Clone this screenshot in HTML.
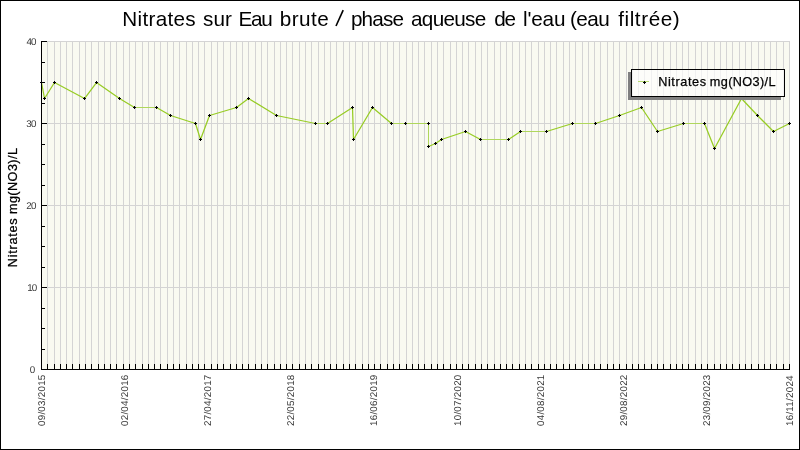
<!DOCTYPE html>
<html><head><meta charset="utf-8"><title>Nitrates</title>
<style>html,body{margin:0;padding:0;background:#fff;}body{width:800px;height:450px;overflow:hidden;}svg{display:block;}text{font-family:"Liberation Sans",sans-serif;}svg{opacity:0.999;will-change:transform;}</style>
</head><body>
<svg width="800" height="450" viewBox="0 0 800 450">
<rect x="0" y="0" width="800" height="450" fill="#ffffff"/>
<g shape-rendering="crispEdges">
<rect x="41" y="41" width="749" height="329" fill="#f9faf1"/>
<rect x="47" y="41" width="1" height="328" fill="#d4d4d4"/>
<rect x="54" y="41" width="1" height="328" fill="#d4d4d4"/>
<rect x="60" y="41" width="1" height="328" fill="#d4d4d4"/>
<rect x="66" y="41" width="1" height="328" fill="#d4d4d4"/>
<rect x="72" y="41" width="1" height="328" fill="#d4d4d4"/>
<rect x="79" y="41" width="1" height="328" fill="#d4d4d4"/>
<rect x="85" y="41" width="1" height="328" fill="#d4d4d4"/>
<rect x="91" y="41" width="1" height="328" fill="#d4d4d4"/>
<rect x="98" y="41" width="1" height="328" fill="#d4d4d4"/>
<rect x="104" y="41" width="1" height="328" fill="#d4d4d4"/>
<rect x="110" y="41" width="1" height="328" fill="#d4d4d4"/>
<rect x="116" y="41" width="1" height="328" fill="#d4d4d4"/>
<rect x="123" y="41" width="1" height="328" fill="#d4d4d4"/>
<rect x="129" y="41" width="1" height="328" fill="#d4d4d4"/>
<rect x="135" y="41" width="1" height="328" fill="#d4d4d4"/>
<rect x="142" y="41" width="1" height="328" fill="#d4d4d4"/>
<rect x="148" y="41" width="1" height="328" fill="#d4d4d4"/>
<rect x="154" y="41" width="1" height="328" fill="#d4d4d4"/>
<rect x="160" y="41" width="1" height="328" fill="#d4d4d4"/>
<rect x="167" y="41" width="1" height="328" fill="#d4d4d4"/>
<rect x="173" y="41" width="1" height="328" fill="#d4d4d4"/>
<rect x="179" y="41" width="1" height="328" fill="#d4d4d4"/>
<rect x="186" y="41" width="1" height="328" fill="#d4d4d4"/>
<rect x="192" y="41" width="1" height="328" fill="#d4d4d4"/>
<rect x="198" y="41" width="1" height="328" fill="#d4d4d4"/>
<rect x="204" y="41" width="1" height="328" fill="#d4d4d4"/>
<rect x="211" y="41" width="1" height="328" fill="#d4d4d4"/>
<rect x="217" y="41" width="1" height="328" fill="#d4d4d4"/>
<rect x="223" y="41" width="1" height="328" fill="#d4d4d4"/>
<rect x="230" y="41" width="1" height="328" fill="#d4d4d4"/>
<rect x="236" y="41" width="1" height="328" fill="#d4d4d4"/>
<rect x="242" y="41" width="1" height="328" fill="#d4d4d4"/>
<rect x="248" y="41" width="1" height="328" fill="#d4d4d4"/>
<rect x="255" y="41" width="1" height="328" fill="#d4d4d4"/>
<rect x="261" y="41" width="1" height="328" fill="#d4d4d4"/>
<rect x="267" y="41" width="1" height="328" fill="#d4d4d4"/>
<rect x="274" y="41" width="1" height="328" fill="#d4d4d4"/>
<rect x="280" y="41" width="1" height="328" fill="#d4d4d4"/>
<rect x="286" y="41" width="1" height="328" fill="#d4d4d4"/>
<rect x="292" y="41" width="1" height="328" fill="#d4d4d4"/>
<rect x="299" y="41" width="1" height="328" fill="#d4d4d4"/>
<rect x="305" y="41" width="1" height="328" fill="#d4d4d4"/>
<rect x="311" y="41" width="1" height="328" fill="#d4d4d4"/>
<rect x="318" y="41" width="1" height="328" fill="#d4d4d4"/>
<rect x="324" y="41" width="1" height="328" fill="#d4d4d4"/>
<rect x="330" y="41" width="1" height="328" fill="#d4d4d4"/>
<rect x="336" y="41" width="1" height="328" fill="#d4d4d4"/>
<rect x="343" y="41" width="1" height="328" fill="#d4d4d4"/>
<rect x="349" y="41" width="1" height="328" fill="#d4d4d4"/>
<rect x="355" y="41" width="1" height="328" fill="#d4d4d4"/>
<rect x="362" y="41" width="1" height="328" fill="#d4d4d4"/>
<rect x="368" y="41" width="1" height="328" fill="#d4d4d4"/>
<rect x="374" y="41" width="1" height="328" fill="#d4d4d4"/>
<rect x="380" y="41" width="1" height="328" fill="#d4d4d4"/>
<rect x="387" y="41" width="1" height="328" fill="#d4d4d4"/>
<rect x="393" y="41" width="1" height="328" fill="#d4d4d4"/>
<rect x="399" y="41" width="1" height="328" fill="#d4d4d4"/>
<rect x="406" y="41" width="1" height="328" fill="#d4d4d4"/>
<rect x="412" y="41" width="1" height="328" fill="#d4d4d4"/>
<rect x="418" y="41" width="1" height="328" fill="#d4d4d4"/>
<rect x="424" y="41" width="1" height="328" fill="#d4d4d4"/>
<rect x="431" y="41" width="1" height="328" fill="#d4d4d4"/>
<rect x="437" y="41" width="1" height="328" fill="#d4d4d4"/>
<rect x="443" y="41" width="1" height="328" fill="#d4d4d4"/>
<rect x="450" y="41" width="1" height="328" fill="#d4d4d4"/>
<rect x="456" y="41" width="1" height="328" fill="#d4d4d4"/>
<rect x="462" y="41" width="1" height="328" fill="#d4d4d4"/>
<rect x="468" y="41" width="1" height="328" fill="#d4d4d4"/>
<rect x="475" y="41" width="1" height="328" fill="#d4d4d4"/>
<rect x="481" y="41" width="1" height="328" fill="#d4d4d4"/>
<rect x="487" y="41" width="1" height="328" fill="#d4d4d4"/>
<rect x="494" y="41" width="1" height="328" fill="#d4d4d4"/>
<rect x="500" y="41" width="1" height="328" fill="#d4d4d4"/>
<rect x="506" y="41" width="1" height="328" fill="#d4d4d4"/>
<rect x="512" y="41" width="1" height="328" fill="#d4d4d4"/>
<rect x="519" y="41" width="1" height="328" fill="#d4d4d4"/>
<rect x="525" y="41" width="1" height="328" fill="#d4d4d4"/>
<rect x="531" y="41" width="1" height="328" fill="#d4d4d4"/>
<rect x="538" y="41" width="1" height="328" fill="#d4d4d4"/>
<rect x="544" y="41" width="1" height="328" fill="#d4d4d4"/>
<rect x="550" y="41" width="1" height="328" fill="#d4d4d4"/>
<rect x="556" y="41" width="1" height="328" fill="#d4d4d4"/>
<rect x="563" y="41" width="1" height="328" fill="#d4d4d4"/>
<rect x="569" y="41" width="1" height="328" fill="#d4d4d4"/>
<rect x="575" y="41" width="1" height="328" fill="#d4d4d4"/>
<rect x="582" y="41" width="1" height="328" fill="#d4d4d4"/>
<rect x="588" y="41" width="1" height="328" fill="#d4d4d4"/>
<rect x="594" y="41" width="1" height="328" fill="#d4d4d4"/>
<rect x="600" y="41" width="1" height="328" fill="#d4d4d4"/>
<rect x="607" y="41" width="1" height="328" fill="#d4d4d4"/>
<rect x="613" y="41" width="1" height="328" fill="#d4d4d4"/>
<rect x="619" y="41" width="1" height="328" fill="#d4d4d4"/>
<rect x="626" y="41" width="1" height="328" fill="#d4d4d4"/>
<rect x="632" y="41" width="1" height="328" fill="#d4d4d4"/>
<rect x="638" y="41" width="1" height="328" fill="#d4d4d4"/>
<rect x="644" y="41" width="1" height="328" fill="#d4d4d4"/>
<rect x="651" y="41" width="1" height="328" fill="#d4d4d4"/>
<rect x="657" y="41" width="1" height="328" fill="#d4d4d4"/>
<rect x="663" y="41" width="1" height="328" fill="#d4d4d4"/>
<rect x="670" y="41" width="1" height="328" fill="#d4d4d4"/>
<rect x="676" y="41" width="1" height="328" fill="#d4d4d4"/>
<rect x="682" y="41" width="1" height="328" fill="#d4d4d4"/>
<rect x="688" y="41" width="1" height="328" fill="#d4d4d4"/>
<rect x="695" y="41" width="1" height="328" fill="#d4d4d4"/>
<rect x="701" y="41" width="1" height="328" fill="#d4d4d4"/>
<rect x="707" y="41" width="1" height="328" fill="#d4d4d4"/>
<rect x="714" y="41" width="1" height="328" fill="#d4d4d4"/>
<rect x="720" y="41" width="1" height="328" fill="#d4d4d4"/>
<rect x="726" y="41" width="1" height="328" fill="#d4d4d4"/>
<rect x="732" y="41" width="1" height="328" fill="#d4d4d4"/>
<rect x="739" y="41" width="1" height="328" fill="#d4d4d4"/>
<rect x="745" y="41" width="1" height="328" fill="#d4d4d4"/>
<rect x="751" y="41" width="1" height="328" fill="#d4d4d4"/>
<rect x="758" y="41" width="1" height="328" fill="#d4d4d4"/>
<rect x="764" y="41" width="1" height="328" fill="#d4d4d4"/>
<rect x="770" y="41" width="1" height="328" fill="#d4d4d4"/>
<rect x="776" y="41" width="1" height="328" fill="#d4d4d4"/>
<rect x="783" y="41" width="1" height="328" fill="#d4d4d4"/>
<rect x="789" y="41" width="1" height="328" fill="#d4d4d4"/>
<rect x="41" y="287" width="749" height="1" fill="#d4d4d4"/>
<rect x="41" y="205" width="749" height="1" fill="#d4d4d4"/>
<rect x="41" y="123" width="749" height="1" fill="#d4d4d4"/>
<rect x="41" y="41" width="749" height="1" fill="#d4d4d4"/>
</g>
<polyline points="41.5,82.5 44.5,98.5 54.5,82.5 84.5,98.5 96.5,82.5 119.5,98.5 134.5,107.5" fill="none" stroke="#97cc24" stroke-width="1.25" stroke-linejoin="round" stroke-linecap="round"/>
<polyline points="156.5,107.5 170.5,115.5 195.5,123.5 200.5,139.5 209.5,115.5 236.5,107.5 248.5,98.5 276.5,115.5 315.5,123.5" fill="none" stroke="#97cc24" stroke-width="1.25" stroke-linejoin="round" stroke-linecap="round"/>
<polyline points="327.5,123.5 352.5,107.5 353.5,139.5 372.5,107.5 391.5,123.5" fill="none" stroke="#97cc24" stroke-width="1.25" stroke-linejoin="round" stroke-linecap="round"/>
<polyline points="428.5,146.5 435.5,143.5 441.5,139.5 465.5,131.5 480.5,139.5" fill="none" stroke="#97cc24" stroke-width="1.25" stroke-linejoin="round" stroke-linecap="round"/>
<polyline points="508.5,139.5 520.5,131.5" fill="none" stroke="#97cc24" stroke-width="1.25" stroke-linejoin="round" stroke-linecap="round"/>
<polyline points="546.5,131.5 572.5,123.5" fill="none" stroke="#97cc24" stroke-width="1.25" stroke-linejoin="round" stroke-linecap="round"/>
<polyline points="595.5,123.5 619.5,115.5 641.5,107.5 657.5,131.5 683.5,123.5" fill="none" stroke="#97cc24" stroke-width="1.25" stroke-linejoin="round" stroke-linecap="round"/>
<polyline points="704.5,123.5 714.5,148.5 741.5,98.5 757.5,115.5 773.5,131.5 789.5,123.5" fill="none" stroke="#97cc24" stroke-width="1.25" stroke-linejoin="round" stroke-linecap="round"/>
<g shape-rendering="crispEdges" fill="#afd75c">
<rect x="134" y="107" width="23" height="1"/>
<rect x="315" y="123" width="13" height="1"/>
<rect x="391" y="123" width="15" height="1"/>
<rect x="405" y="123" width="24" height="1"/>
<rect x="428" y="123" width="1" height="24"/>
<rect x="480" y="139" width="29" height="1"/>
<rect x="520" y="131" width="27" height="1"/>
<rect x="572" y="123" width="24" height="1"/>
<rect x="683" y="123" width="22" height="1"/>
</g>
<g shape-rendering="crispEdges" fill="#000">
<rect x="40" y="82" width="3" height="1"/><rect x="41" y="81" width="1" height="3"/>
<rect x="43" y="98" width="3" height="1"/><rect x="44" y="97" width="1" height="3"/>
<rect x="53" y="82" width="3" height="1"/><rect x="54" y="81" width="1" height="3"/>
<rect x="83" y="98" width="3" height="1"/><rect x="84" y="97" width="1" height="3"/>
<rect x="95" y="82" width="3" height="1"/><rect x="96" y="81" width="1" height="3"/>
<rect x="118" y="98" width="3" height="1"/><rect x="119" y="97" width="1" height="3"/>
<rect x="133" y="107" width="3" height="1"/><rect x="134" y="106" width="1" height="3"/>
<rect x="155" y="107" width="3" height="1"/><rect x="156" y="106" width="1" height="3"/>
<rect x="169" y="115" width="3" height="1"/><rect x="170" y="114" width="1" height="3"/>
<rect x="194" y="123" width="3" height="1"/><rect x="195" y="122" width="1" height="3"/>
<rect x="199" y="139" width="3" height="1"/><rect x="200" y="138" width="1" height="3"/>
<rect x="208" y="115" width="3" height="1"/><rect x="209" y="114" width="1" height="3"/>
<rect x="235" y="107" width="3" height="1"/><rect x="236" y="106" width="1" height="3"/>
<rect x="247" y="98" width="3" height="1"/><rect x="248" y="97" width="1" height="3"/>
<rect x="275" y="115" width="3" height="1"/><rect x="276" y="114" width="1" height="3"/>
<rect x="314" y="123" width="3" height="1"/><rect x="315" y="122" width="1" height="3"/>
<rect x="326" y="123" width="3" height="1"/><rect x="327" y="122" width="1" height="3"/>
<rect x="351" y="107" width="3" height="1"/><rect x="352" y="106" width="1" height="3"/>
<rect x="352" y="139" width="3" height="1"/><rect x="353" y="138" width="1" height="3"/>
<rect x="371" y="107" width="3" height="1"/><rect x="372" y="106" width="1" height="3"/>
<rect x="390" y="123" width="3" height="1"/><rect x="391" y="122" width="1" height="3"/>
<rect x="404" y="123" width="3" height="1"/><rect x="405" y="122" width="1" height="3"/>
<rect x="427" y="123" width="3" height="1"/><rect x="428" y="122" width="1" height="3"/>
<rect x="427" y="146" width="3" height="1"/><rect x="428" y="145" width="1" height="3"/>
<rect x="434" y="143" width="3" height="1"/><rect x="435" y="142" width="1" height="3"/>
<rect x="440" y="139" width="3" height="1"/><rect x="441" y="138" width="1" height="3"/>
<rect x="464" y="131" width="3" height="1"/><rect x="465" y="130" width="1" height="3"/>
<rect x="479" y="139" width="3" height="1"/><rect x="480" y="138" width="1" height="3"/>
<rect x="507" y="139" width="3" height="1"/><rect x="508" y="138" width="1" height="3"/>
<rect x="519" y="131" width="3" height="1"/><rect x="520" y="130" width="1" height="3"/>
<rect x="545" y="131" width="3" height="1"/><rect x="546" y="130" width="1" height="3"/>
<rect x="571" y="123" width="3" height="1"/><rect x="572" y="122" width="1" height="3"/>
<rect x="594" y="123" width="3" height="1"/><rect x="595" y="122" width="1" height="3"/>
<rect x="618" y="115" width="3" height="1"/><rect x="619" y="114" width="1" height="3"/>
<rect x="640" y="107" width="3" height="1"/><rect x="641" y="106" width="1" height="3"/>
<rect x="656" y="131" width="3" height="1"/><rect x="657" y="130" width="1" height="3"/>
<rect x="682" y="123" width="3" height="1"/><rect x="683" y="122" width="1" height="3"/>
<rect x="703" y="123" width="3" height="1"/><rect x="704" y="122" width="1" height="3"/>
<rect x="713" y="148" width="3" height="1"/><rect x="714" y="147" width="1" height="3"/>
<rect x="740" y="98" width="3" height="1"/><rect x="741" y="97" width="1" height="3"/>
<rect x="756" y="115" width="3" height="1"/><rect x="757" y="114" width="1" height="3"/>
<rect x="772" y="131" width="3" height="1"/><rect x="773" y="130" width="1" height="3"/>
<rect x="788" y="123" width="3" height="1"/><rect x="789" y="122" width="1" height="3"/>
</g>
<g shape-rendering="crispEdges">
<rect x="628" y="72" width="3" height="28" fill="#808080"/>
<rect x="628" y="97" width="153" height="3" fill="#808080"/>
<rect x="631.5" y="69.5" width="153" height="27" fill="#ffffff" fill-opacity="0.66" stroke="#000" stroke-width="1"/>
<rect x="638" y="81" width="11" height="1" fill="#b7db70"/>
<rect x="643" y="82" width="3" height="1" fill="#000"/><rect x="644" y="81" width="1" height="3" fill="#000"/>
</g>
<text x="658.2" y="85.7" font-size="12.7" fill="#000" stroke="#000" stroke-width="0.25" letter-spacing="0.6">Nitrates</text>
<text x="709.8" y="85.7" font-size="12.7" fill="#000" stroke="#000" stroke-width="0.25" letter-spacing="0.375">mg(NO3)/L</text>
<g shape-rendering="crispEdges" fill="#000">
<rect x="41" y="41" width="1" height="329"/>
<rect x="41" y="369" width="749" height="1"/>
<rect x="42" y="369" width="5" height="1"/>
<rect x="42" y="349" width="3" height="1"/>
<rect x="42" y="328" width="3" height="1"/>
<rect x="42" y="308" width="3" height="1"/>
<rect x="42" y="287" width="5" height="1"/>
<rect x="42" y="267" width="3" height="1"/>
<rect x="42" y="246" width="3" height="1"/>
<rect x="42" y="226" width="3" height="1"/>
<rect x="42" y="205" width="5" height="1"/>
<rect x="42" y="185" width="3" height="1"/>
<rect x="42" y="164" width="3" height="1"/>
<rect x="42" y="144" width="3" height="1"/>
<rect x="42" y="123" width="5" height="1"/>
<rect x="42" y="103" width="3" height="1"/>
<rect x="42" y="82" width="3" height="1"/>
<rect x="42" y="62" width="3" height="1"/>
<rect x="42" y="41" width="5" height="1"/>
<rect x="47" y="364" width="1" height="5"/>
<rect x="54" y="364" width="1" height="5"/>
<rect x="60" y="364" width="1" height="5"/>
<rect x="66" y="364" width="1" height="5"/>
<rect x="72" y="364" width="1" height="5"/>
<rect x="79" y="364" width="1" height="5"/>
<rect x="85" y="364" width="1" height="5"/>
<rect x="91" y="364" width="1" height="5"/>
<rect x="98" y="364" width="1" height="5"/>
<rect x="104" y="364" width="1" height="5"/>
<rect x="110" y="364" width="1" height="5"/>
<rect x="116" y="364" width="1" height="5"/>
<rect x="123" y="364" width="1" height="5"/>
<rect x="129" y="364" width="1" height="5"/>
<rect x="135" y="364" width="1" height="5"/>
<rect x="142" y="364" width="1" height="5"/>
<rect x="148" y="364" width="1" height="5"/>
<rect x="154" y="364" width="1" height="5"/>
<rect x="160" y="364" width="1" height="5"/>
<rect x="167" y="364" width="1" height="5"/>
<rect x="173" y="364" width="1" height="5"/>
<rect x="179" y="364" width="1" height="5"/>
<rect x="186" y="364" width="1" height="5"/>
<rect x="192" y="364" width="1" height="5"/>
<rect x="198" y="364" width="1" height="5"/>
<rect x="204" y="364" width="1" height="5"/>
<rect x="211" y="364" width="1" height="5"/>
<rect x="217" y="364" width="1" height="5"/>
<rect x="223" y="364" width="1" height="5"/>
<rect x="230" y="364" width="1" height="5"/>
<rect x="236" y="364" width="1" height="5"/>
<rect x="242" y="364" width="1" height="5"/>
<rect x="248" y="364" width="1" height="5"/>
<rect x="255" y="364" width="1" height="5"/>
<rect x="261" y="364" width="1" height="5"/>
<rect x="267" y="364" width="1" height="5"/>
<rect x="274" y="364" width="1" height="5"/>
<rect x="280" y="364" width="1" height="5"/>
<rect x="286" y="364" width="1" height="5"/>
<rect x="292" y="364" width="1" height="5"/>
<rect x="299" y="364" width="1" height="5"/>
<rect x="305" y="364" width="1" height="5"/>
<rect x="311" y="364" width="1" height="5"/>
<rect x="318" y="364" width="1" height="5"/>
<rect x="324" y="364" width="1" height="5"/>
<rect x="330" y="364" width="1" height="5"/>
<rect x="336" y="364" width="1" height="5"/>
<rect x="343" y="364" width="1" height="5"/>
<rect x="349" y="364" width="1" height="5"/>
<rect x="355" y="364" width="1" height="5"/>
<rect x="362" y="364" width="1" height="5"/>
<rect x="368" y="364" width="1" height="5"/>
<rect x="374" y="364" width="1" height="5"/>
<rect x="380" y="364" width="1" height="5"/>
<rect x="387" y="364" width="1" height="5"/>
<rect x="393" y="364" width="1" height="5"/>
<rect x="399" y="364" width="1" height="5"/>
<rect x="406" y="364" width="1" height="5"/>
<rect x="412" y="364" width="1" height="5"/>
<rect x="418" y="364" width="1" height="5"/>
<rect x="424" y="364" width="1" height="5"/>
<rect x="431" y="364" width="1" height="5"/>
<rect x="437" y="364" width="1" height="5"/>
<rect x="443" y="364" width="1" height="5"/>
<rect x="450" y="364" width="1" height="5"/>
<rect x="456" y="364" width="1" height="5"/>
<rect x="462" y="364" width="1" height="5"/>
<rect x="468" y="364" width="1" height="5"/>
<rect x="475" y="364" width="1" height="5"/>
<rect x="481" y="364" width="1" height="5"/>
<rect x="487" y="364" width="1" height="5"/>
<rect x="494" y="364" width="1" height="5"/>
<rect x="500" y="364" width="1" height="5"/>
<rect x="506" y="364" width="1" height="5"/>
<rect x="512" y="364" width="1" height="5"/>
<rect x="519" y="364" width="1" height="5"/>
<rect x="525" y="364" width="1" height="5"/>
<rect x="531" y="364" width="1" height="5"/>
<rect x="538" y="364" width="1" height="5"/>
<rect x="544" y="364" width="1" height="5"/>
<rect x="550" y="364" width="1" height="5"/>
<rect x="556" y="364" width="1" height="5"/>
<rect x="563" y="364" width="1" height="5"/>
<rect x="569" y="364" width="1" height="5"/>
<rect x="575" y="364" width="1" height="5"/>
<rect x="582" y="364" width="1" height="5"/>
<rect x="588" y="364" width="1" height="5"/>
<rect x="594" y="364" width="1" height="5"/>
<rect x="600" y="364" width="1" height="5"/>
<rect x="607" y="364" width="1" height="5"/>
<rect x="613" y="364" width="1" height="5"/>
<rect x="619" y="364" width="1" height="5"/>
<rect x="626" y="364" width="1" height="5"/>
<rect x="632" y="364" width="1" height="5"/>
<rect x="638" y="364" width="1" height="5"/>
<rect x="644" y="364" width="1" height="5"/>
<rect x="651" y="364" width="1" height="5"/>
<rect x="657" y="364" width="1" height="5"/>
<rect x="663" y="364" width="1" height="5"/>
<rect x="670" y="364" width="1" height="5"/>
<rect x="676" y="364" width="1" height="5"/>
<rect x="682" y="364" width="1" height="5"/>
<rect x="688" y="364" width="1" height="5"/>
<rect x="695" y="364" width="1" height="5"/>
<rect x="701" y="364" width="1" height="5"/>
<rect x="707" y="364" width="1" height="5"/>
<rect x="714" y="364" width="1" height="5"/>
<rect x="720" y="364" width="1" height="5"/>
<rect x="726" y="364" width="1" height="5"/>
<rect x="732" y="364" width="1" height="5"/>
<rect x="739" y="364" width="1" height="5"/>
<rect x="745" y="364" width="1" height="5"/>
<rect x="751" y="364" width="1" height="5"/>
<rect x="758" y="364" width="1" height="5"/>
<rect x="764" y="364" width="1" height="5"/>
<rect x="770" y="364" width="1" height="5"/>
<rect x="776" y="364" width="1" height="5"/>
<rect x="783" y="364" width="1" height="5"/>
<rect x="789" y="364" width="1" height="5"/>
</g>
<text text-rendering="geometricPrecision" x="29.8" y="373" font-size="9.8" fill="#383838" letter-spacing="0">0</text>
<text text-rendering="geometricPrecision" x="27.2" y="291" font-size="9.8" fill="#383838" letter-spacing="-0.8">10</text>
<text text-rendering="geometricPrecision" x="26.3" y="209" font-size="9.8" fill="#383838" letter-spacing="-0.8">20</text>
<text text-rendering="geometricPrecision" x="26.35" y="127" font-size="9.8" fill="#383838" letter-spacing="-0.8">30</text>
<text text-rendering="geometricPrecision" x="26.5" y="45" font-size="9.8" fill="#383838" letter-spacing="-1.0">40</text>
<text transform="translate(45.30,426.0) rotate(-90)" text-rendering="geometricPrecision" font-size="9.8" fill="#383838" letter-spacing="0.25">09/03/2015</text>
<text transform="translate(128.30,426.0) rotate(-90)" text-rendering="geometricPrecision" font-size="9.8" fill="#383838" letter-spacing="0.25">02/04/2016</text>
<text transform="translate(211.30,426.0) rotate(-90)" text-rendering="geometricPrecision" font-size="9.8" fill="#383838" letter-spacing="0.25">27/04/2017</text>
<text transform="translate(294.30,426.0) rotate(-90)" text-rendering="geometricPrecision" font-size="9.8" fill="#383838" letter-spacing="0.25">22/05/2018</text>
<text transform="translate(377.30,426.0) rotate(-90)" text-rendering="geometricPrecision" font-size="9.8" fill="#383838" letter-spacing="0.25">16/06/2019</text>
<text transform="translate(461.30,426.0) rotate(-90)" text-rendering="geometricPrecision" font-size="9.8" fill="#383838" letter-spacing="0.25">10/07/2020</text>
<text transform="translate(544.30,426.0) rotate(-90)" text-rendering="geometricPrecision" font-size="9.8" fill="#383838" letter-spacing="0.25">04/08/2021</text>
<text transform="translate(627.30,426.0) rotate(-90)" text-rendering="geometricPrecision" font-size="9.8" fill="#383838" letter-spacing="0.25">29/08/2022</text>
<text transform="translate(710.30,426.0) rotate(-90)" text-rendering="geometricPrecision" font-size="9.8" fill="#383838" letter-spacing="0.25">23/09/2023</text>
<text transform="translate(793.30,426.0) rotate(-90)" text-rendering="geometricPrecision" font-size="9.8" fill="#383838" letter-spacing="0.25">16/11/2024</text>
<text transform="translate(16.7,267.2) rotate(-90)" font-size="12.7" fill="#000" stroke="#000" stroke-width="0.25" letter-spacing="0.74">Nitrates</text>
<text transform="translate(16.7,214.1) rotate(-90)" font-size="12.7" fill="#000" stroke="#000" stroke-width="0.25" letter-spacing="0.42">mg(NO3)/L</text>
<text x="122.29" y="25.6" font-size="20.7" fill="#000" letter-spacing="0.297">Nitrates</text>
<text x="202.98" y="25.6" font-size="20.7" fill="#000" letter-spacing="0.065">sur</text>
<text x="238.54" y="25.6" font-size="20.7" fill="#000" letter-spacing="-1.24">Eau</text>
<text x="279.84" y="25.6" font-size="20.7" fill="#000" letter-spacing="0.416">brute</text>
<text x="350.89" y="25.6" font-size="20.7" fill="#000" letter-spacing="-0.796">phase</text>
<text x="411.07" y="25.6" font-size="20.7" fill="#000" letter-spacing="-0.702">aqueuse</text>
<text x="494.17" y="25.6" font-size="20.7" fill="#000" letter-spacing="-1.184">de</text>
<text x="522.96" y="25.6" font-size="20.7" fill="#000" letter-spacing="-0.156">l'eau</text>
<text x="569.94" y="25.6" font-size="20.7" fill="#000" letter-spacing="-0.563">(eau</text>
<text x="618.14" y="25.6" font-size="20.7" fill="#000" letter-spacing="0.587">filtrée)</text>
<line x1="336.0" y1="26.0" x2="343.2" y2="10.2" stroke="#000" stroke-width="1.6"/>
<g shape-rendering="crispEdges" fill="#000"><rect x="0" y="0" width="800" height="1"/><rect x="0" y="449" width="800" height="1"/><rect x="0" y="0" width="1" height="450"/><rect x="799" y="0" width="1" height="450"/></g>
</svg></body></html>
